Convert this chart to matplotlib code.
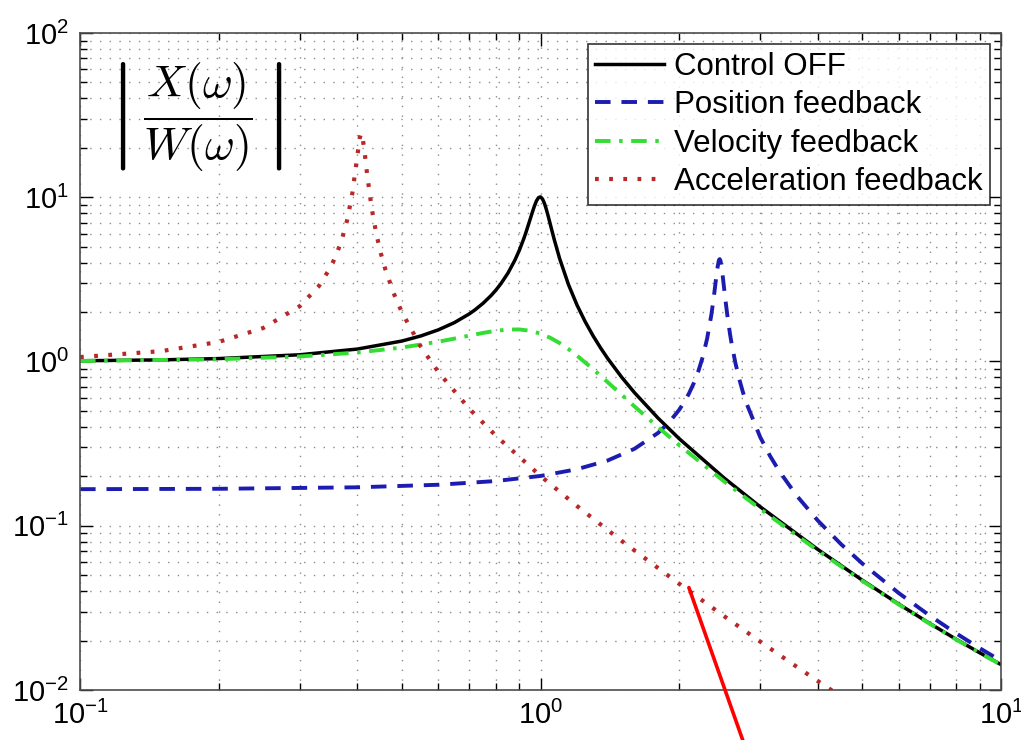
import matplotlib
matplotlib.use("Agg")
import matplotlib.pyplot as plt

# === Data (frequency ratio vs |X/W|) ===
w_off = [0.1, 0.15, 0.2, 0.3, 0.4, 0.5, 0.55, 0.6, 0.65, 0.7, 0.72, 0.75, 0.78, 0.8, 0.82,
         0.85, 0.88, 0.9, 0.92, 0.93, 0.95, 0.96, 0.97, 0.98, 0.99, 1.0, 1.01, 1.02, 1.03,
         1.04, 1.05, 1.07, 1.1, 1.15, 1.2, 1.25, 1.3, 1.35, 1.4, 1.5, 1.6, 1.8, 2.0, 2.5,
         3.0, 4.0, 5.0, 6.0, 7.0, 8.0, 9.0, 10.0]
mag_off = [1.0101, 1.0230, 1.0417, 1.0988, 1.1901, 1.3320, 1.4314, 1.5585, 1.7244, 1.9473,
           2.0589, 2.2592, 2.5120, 2.7203, 2.9711, 3.4580, 4.1455, 4.7757, 5.6089, 6.1231,
           7.379, 8.1049, 8.845, 9.506, 9.951, 10.05, 9.760, 9.162, 8.401, 7.6057, 6.852,
           5.583, 4.2435, 2.940, 2.2084, 1.7490, 1.4362, 1.2107, 1.0409, 0.80319, 0.6458,
           0.4522, 0.3392, 0.19612, 0.13041, 0.07177, 0.04657, 0.03331, 0.02543, 0.02033,
           0.016816, 0.014284]

w_pos = [0.1, 0.2, 0.4, 0.6, 0.8, 1.0, 1.2, 1.4, 1.6, 1.8, 1.9, 2.0, 2.05, 2.1, 2.15, 2.2,
         2.25, 2.3, 2.35, 2.38, 2.4, 2.42, 2.44, 2.45, 2.46, 2.48, 2.5, 2.52, 2.55, 2.58,
         2.6, 2.65, 2.7, 2.75, 2.8, 3.0, 3.15, 3.3, 3.6, 4.0, 4.5, 5.0, 6.0, 7.0, 8.0, 9.0,
         10.0]
mag_pos = [0.16696, 0.16782, 0.17137, 0.17762, 0.18714, 0.20096, 0.22080, 0.24980, 0.29407,
           0.36737, 0.42456, 0.50737, 0.56424, 0.63711, 0.73369, 0.86721, 1.0631, 1.3749,
           1.9301, 2.4983, 3.0300, 3.6564, 4.1442, 4.2022, 4.0971, 3.5523, 2.9155, 2.3895,
           1.8314, 1.4642, 1.2863, 0.97938, 0.78592, 0.65370, 0.55798, 0.34627, 0.26642,
           0.21485, 0.15248, 0.10761, 0.07692, 0.05882, 0.03887, 0.02838, 0.02208, 0.01794,
           0.015044]

w_vel = [0.1, 0.2, 0.3, 0.4, 0.5, 0.6, 0.65, 0.7, 0.75, 0.8, 0.85, 0.9, 0.95, 1.0, 1.05,
         1.1, 1.15, 1.2, 1.3, 1.4, 1.6, 1.8, 2.0, 2.5, 3.0, 4.0, 5.0, 6.0, 7.0, 8.0, 9.0, 10.0]
mag_vel = [1.0078, 1.0316, 1.0728, 1.1335, 1.2159, 1.3199, 1.3780, 1.4370, 1.4924, 1.5379,
           1.5653, 1.5668, 1.5375, 1.4779, 1.3940, 1.2949, 1.1900, 1.0864, 0.89923, 0.7469,
           0.53246, 0.39806, 0.30960, 0.18680, 0.12645, 0.07065, 0.04612, 0.03310, 0.02531,
           0.02025, 0.01677, 0.014251]

w_acc = [0.1, 0.15, 0.2, 0.25, 0.3, 0.33, 0.35, 0.36, 0.37, 0.38, 0.39, 0.4, 0.405, 0.408,
         0.41, 0.415, 0.42, 0.43, 0.44, 0.45, 0.46, 0.48, 0.5, 0.55, 0.6, 0.7, 0.8, 1.0, 1.2,
         1.5, 2.0, 2.5, 3.0, 3.5, 4.0, 4.5]
mag_acc = [1.0638, 1.1560, 1.3156, 1.5992, 2.1703, 2.8737, 3.7434, 4.4414, 5.4865, 7.2046,
           10.456, 17.692, 23.013, 24.516, 23.890, 18.801, 13.913, 8.5149, 5.9766, 4.5571,
           3.6602, 2.5977, 1.9926, 1.2261, 0.86247, 0.51639, 0.35310, 0.20096, 0.13182,
           0.080890, 0.044337, 0.028240, 0.019698, 0.014614, 0.011337, 0.0091003]

labels = ["Control OFF", "Position feedback", "Velocity feedback", "Acceleration feedback"]

# === Figure setup ===
plt.rcParams["font.family"] = ["Liberation Sans", "DejaVu Sans"]
plt.rcParams["mathtext.fontset"] = "custom"
plt.rcParams["mathtext.rm"] = "Liberation Sans"
plt.rcParams["mathtext.it"] = "Liberation Sans:italic"

fig = plt.figure(figsize=(10.21, 7.4), dpi=100)
ax = fig.add_axes([0.0784, 0.0676, 0.902, 0.8878])

ax.plot(w_off, mag_off, color="black", lw=2.5, label=labels[0])
ax.plot(w_pos, mag_pos, color="#1c1cb0", lw=2.8, linestyle=(0, (4, 2.8)), label=labels[1])
ax.plot(w_vel, mag_vel, color="#33dd33", lw=2.8, linestyle=(0, (4, 2.2, 0.9, 2.2)), label=labels[2])
ax.plot(w_acc, mag_acc, color="#b82828", lw=3.0, linestyle=(0, (0.9, 2.5)), label=labels[3])

ax.set_xscale("log")
ax.set_yscale("log")
ax.set_xlim(0.1, 10)
ax.set_ylim(0.01, 100)

# MATLAB-like sparse dotted grid and inward ticks on all sides
ax.grid(True, which="both", linestyle=(0, (1, 6)), color="0.55", lw=1.0)
ax.tick_params(which="both", direction="in", top=True, right=True, width=1.0)
ax.tick_params(which="major", length=9, labelsize=21, pad=8)
ax.tick_params(which="minor", length=5)
for s in ax.spines.values():
    s.set_linewidth(1.2)
    s.set_color("0.3")

leg = ax.legend(loc="upper right", fontsize=22.5, frameon=True, fancybox=False,
                edgecolor="black", handlelength=2.2, handletextpad=0.3,
                labelspacing=0.27, borderaxespad=0.35, borderpad=0.25)
leg.get_frame().set_linewidth(1.2)

ax.text(0.125, 0.872, r"$\left|\,\dfrac{X(\omega)}{W(\omega)}\,\right|$", transform=ax.transAxes,
        fontsize=33, ha="center", va="center", math_fontfamily="cm")

# red pointer line running off the bottom of the figure
ax.annotate("", xy=(2.1, 0.042), xycoords="data", xytext=(0.73, -0.01),
            textcoords="figure fraction", annotation_clip=False,
            arrowprops=dict(arrowstyle="-", color="red", lw=2.6, shrinkA=0, shrinkB=0))

fig.savefig("out.png", dpi=100)
